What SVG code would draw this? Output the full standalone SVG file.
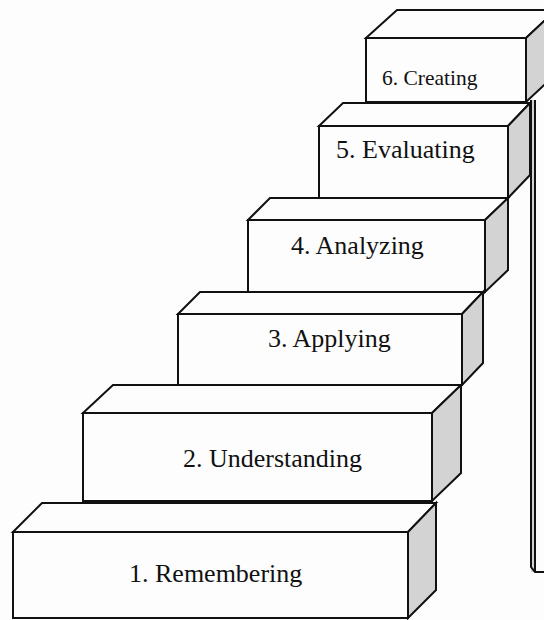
<svg xmlns="http://www.w3.org/2000/svg" width="544" height="620" viewBox="0 0 544 620">
<style>
.f{fill:#fdfdfd;stroke:#111;stroke-width:2;stroke-linejoin:miter}
.s{fill:#d3d3d3;stroke:#111;stroke-width:2;stroke-linejoin:miter}
.t{font-family:"Liberation Serif","Times New Roman",serif;font-size:26px;fill:#111}
.ln{fill:none;stroke:#111;stroke-width:2}
</style>
<rect width="544" height="620" fill="#fdfdfd"/>
<g id="pole">
<rect x="531" y="100" width="4" height="472" fill="#d3d3d3"/>
<path class="ln" d="M531,100 V567 L535,572 H544 M535,100 V572"/>
</g>
<g id="step6">
<polygon class="f" points="366,38 397,10 556,10 526,38"/>
<rect class="f" x="366" y="38" width="160" height="64"/>
<polygon class="s" points="526,38 556,10 556,74 526,102"/>
<text class="t" x="382" y="85" style="font-size:21.5px">6. Creating</text>
</g>
<g id="step5">
<polygon class="f" points="319,126 343,103 530,103 508,126"/>
<rect class="f" x="319" y="126" width="189" height="72"/>
<polygon class="s" points="508,126 530,103 530,175 508,198"/>
<text class="t" x="336" y="158">5. Evaluating</text>
</g>
<g id="step4">
<polygon class="f" points="248,220 270,198 508,198 485,220"/>
<rect class="f" x="248" y="220" width="237" height="72"/>
<polygon class="s" points="485,220 508,198 508,270 485,292"/>
<text class="t" x="291" y="254">4. Analyzing</text>
</g>
<g id="step3">
<polygon class="f" points="178,314 200,292 483,292 462,314"/>
<rect class="f" x="178" y="314" width="284" height="71"/>
<polygon class="s" points="462,314 483,292 483,363 462,385"/>
<text class="t" x="268" y="347">3. Applying</text>
</g>
<g id="step2">
<polygon class="f" points="83,413 113,385 461,385 432,413"/>
<rect class="f" x="83" y="413" width="349" height="88"/>
<polygon class="s" points="432,413 461,385 461,473 432,501"/>
<text class="t" x="183" y="467">2. Understanding</text>
</g>
<g id="step1">
<polygon class="f" points="13,532 42,503 436,503 408,532"/>
<rect class="f" x="13" y="532" width="395" height="86"/>
<polygon class="s" points="408,532 436,503 436,590 408,618"/>
<text class="t" x="129" y="582">1. Remembering</text>
</g>
</svg>
